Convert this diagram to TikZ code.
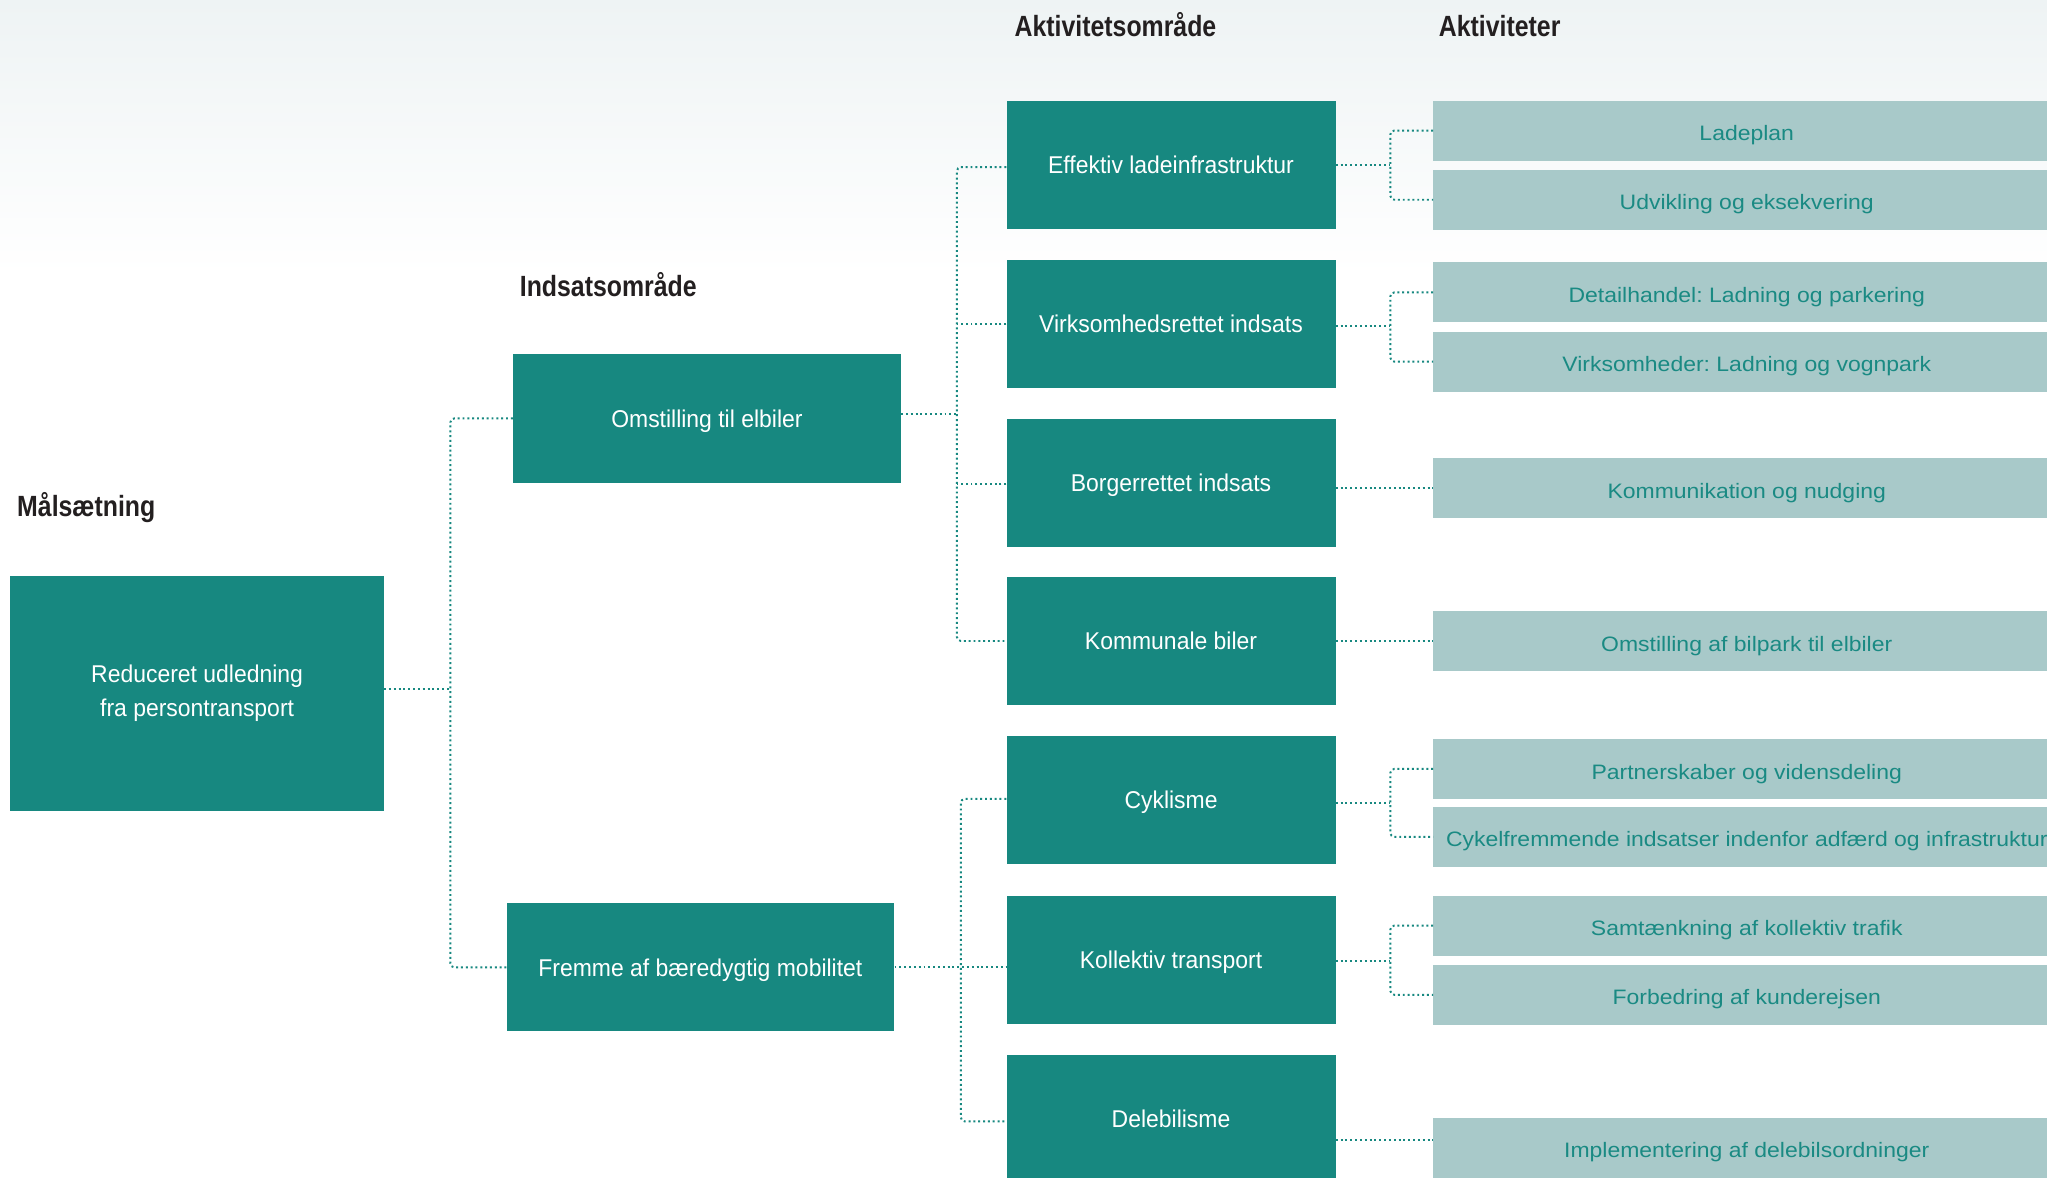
\documentclass[tikz,border=0pt]{standalone}
\usepackage{fontspec}
\setmainfont{Liberation Sans}[FakeStretch=0.945]
\newfontfamily\lightfont{Liberation Sans}[FakeStretch=1.1]
\newfontfamily\headfont{Liberation Sans}[FakeStretch=0.85]
\usetikzlibrary{calc}
\definecolor{tealA}{HTML}{178880}
\definecolor{tealB}{HTML}{A8C9C9}
\definecolor{tealT}{HTML}{1A8A83}
\definecolor{headc}{HTML}{231F20}
\definecolor{bgtop}{HTML}{EEF3F4}
\frenchspacing
\begin{document}
\frenchspacing
\begin{tikzpicture}[x=1pt,y=-1pt,
  dark/.style={fill=tealA, text=white, minimum width=252pt, minimum height=98pt, inner sep=0pt, align=center, font=\fontsize{18.6}{26}\selectfont},
  oneline/.style={text height=13.3pt, text depth=0pt},
  light/.style={fill=tealB, text=tealT, minimum width=480pt, minimum height=46pt, inner sep=0pt, text height=15.5pt, text depth=0pt, font=\lightfont\fontsize{16}{20}\selectfont},
  head/.style={anchor=base west, text=headc, inner sep=0pt, font=\headfont\bfseries\fontsize{22.4}{26}\selectfont},
  conn/.style={draw=tealA, line width=1.5pt, dash pattern=on 1.5pt off 2.2pt, rounded corners=3pt}]
\useasboundingbox (0,0) rectangle (1568,901.6);
\clip (0,0) rectangle (1568,901.6);
\fill[white] (0,0) rectangle (1568,901.6);
\shade[top color=bgtop, bottom color=white] (0,0) rectangle (1568,210);

% headings
\node[head] (h1) at (13,396) {Målsætning};
\node[head] (h2) at (398,227) {Indsatsområde};
\node[head] (h3) at (777,27.6) {Aktivitetsområde};
\node[head] (h4) at (1102,27.6) {Aktiviteter};

% level 1
\node[dark, minimum width=286pt, minimum height=180pt] (red) at (151,531) {Reduceret udledning\\fra persontransport};
% level 2
\node[dark, oneline, minimum width=297pt, minimum height=99pt] (oms) at (541.5,320.5) {Omstilling til elbiler};
\node[dark, oneline, minimum width=297pt] (frem) at (536.5,741) {Fremme af bæredygtig mobilitet};
% level 3
\node[dark, oneline] (eff) at (897,126.5) {Effektiv ladeinfrastruktur};
\node[dark, oneline] (vir) at (897,248) {Virksomhedsrettet indsats};
\node[dark, oneline] (bor) at (897,370) {Borgerrettet indsats};
\node[dark, oneline] (kbi) at (897,491) {Kommunale biler};
\node[dark, oneline] (cyk) at (897,613) {Cyklisme};
\node[dark, oneline] (kol) at (897,735) {Kollektiv transport};
\node[dark, oneline] (del) at (897,857) {Delebilisme};
% level 4
\node[light] (a1) at (1338,100) {Ladeplan};
\node[light] (a2) at (1338,153) {Udvikling og eksekvering};
\node[light] (a3) at (1338,224) {Detailhandel: Ladning og parkering};
\node[light] (a4) at (1338,277) {Virksomheder: Ladning og vognpark};
\node[light] (a5) at (1338,374) {Kommunikation og nudging};
\node[light] (a6) at (1338,491) {Omstilling af bilpark til elbiler};
\node[light] (a7) at (1338,589) {Partnerskaber og vidensdeling};
\node[light] (a8) at (1338,641) {Cykelfremmende indsatser indenfor adfærd og infrastruktur};
\node[light] (a9) at (1338,709) {Samtænkning af kollektiv trafik};
\node[light] (a10) at (1338,762) {Forbedring af kunderejsen};
\node[light] (a11) at (1338,879) {Implementering af delebilsordninger};

% trunk coordinates
\coordinate (t1) at (345,0);
\coordinate (t2) at (733,0);
\coordinate (t3) at (736,0);
\coordinate (t4) at (1065,0);

% level 1 -> 2
\draw[conn] (oms.west) -- (oms.west -| t1) -- (frem.west -| t1) -- (frem.west);
\draw[conn] ([yshift=3pt]red.east) -- ([yshift=3pt]red.east -| t1);
% level 2 -> 3
\draw[conn] ([yshift=-1.5pt]eff.west) -- ([yshift=-1.5pt]eff.west -| t2) -- (kbi.west -| t2) -- (kbi.west);
\draw[conn] (vir.west) -- (vir.west -| t2);
\draw[conn] ([yshift=-1pt]bor.west) -- ([yshift=-1pt]bor.west -| t2);
\draw[conn] ([yshift=3.5pt]oms.east) -- ([yshift=3.5pt]oms.east -| t2);
\draw[conn] ([yshift=1pt]cyk.west) -- ([yshift=1pt]cyk.west -| t3) -- ([yshift=-2pt]del.west -| t3) -- ([yshift=-2pt]del.west);
\draw[conn] (frem.east) -- (frem.east -| kol.west);
% level 3 -> 4
\draw[conn] (a1.west) -- (a1.west -| t4) -- (a2.west -| t4) -- (a2.west);
\draw[conn] (eff.east) -- (eff.east -| t4);
\draw[conn] (a3.west) -- (a3.west -| t4) -- (a4.west -| t4) -- (a4.west);
\draw[conn] ([yshift=-2pt]vir.east) -- ([yshift=-2pt]vir.east -| t4);
\draw[conn] (bor.east |- a5.west) -- (a5.west);
\draw[conn] (kbi.east) -- (kbi.east -| a6.west);
\draw[conn] (a7.west) -- (a7.west -| t4) -- (a8.west -| t4) -- (a8.west);
\draw[conn] ([yshift=-2pt]cyk.east) -- ([yshift=-2pt]cyk.east -| t4);
\draw[conn] (a9.west) -- (a9.west -| t4) -- (a10.west -| t4) -- (a10.west);
\draw[conn] ([yshift=-1pt]kol.east) -- ([yshift=-1pt]kol.east -| t4);
\draw[conn] ([yshift=-16pt]del.east) -- ([yshift=-16pt]del.east -| a11.west);
\end{tikzpicture}
\end{document}
